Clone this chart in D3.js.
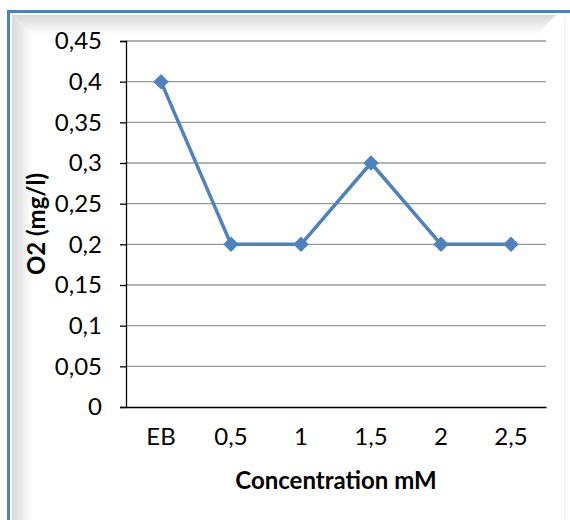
<!DOCTYPE html>
<html>
<head>
<meta charset="utf-8">
<script src="https://cdn.jsdelivr.net/npm/d3@7"></script>
<style>
body{margin:0;background:#fff;}
svg{display:block;font-family:Lato,"Open Sans",sans-serif;}
</style>
</head>
<body>
<script>
// chart data
var categories=["EB","0,5","1","1,5","2","2,5"];
var o2=[0.4,0.2,0.2,0.3,0.2,0.2];
var yTicks=[0,0.05,0.1,0.15,0.2,0.25,0.3,0.35,0.4,0.45];

var width=570,height=520;
var plotLeft=126,plotRight=546,plotTop=41,plotBottom=407;
var fontSize=24;

var svg=d3.select("body").append("svg")
	.attr("width",width)
	.attr("height",height);

var defs=svg.append("defs");
var gTop=defs.append("linearGradient").attr("id","gtop").attr("x1",0).attr("y1",0).attr("x2",0).attr("y2",1);
gTop.append("stop").attr("offset",0).attr("stop-color","#d8d8d8");
gTop.append("stop").attr("offset",1).attr("stop-color","#fff");
var gLeft=defs.append("linearGradient").attr("id","gleft").attr("x1",0).attr("y1",0).attr("x2",1).attr("y2",0);
gLeft.append("stop").attr("offset",0).attr("stop-color","#d8d8d8");
gLeft.append("stop").attr("offset",1).attr("stop-color","#fff");

//frame with bevel shading
svg.append("path")
	.attr("d","M12,15 L556,15 L536,35 L32,35 Z")
	.attr("fill","url(#gtop)");
svg.append("path")
	.attr("d","M12,15 L32,35 L32,520 L12,520 Z")
	.attr("fill","url(#gleft)");
svg.append("line").attr("x1",565).attr("x2",565).attr("y1",14).attr("y2",520)
	.attr("stroke","#eee").attr("stroke-width",1);
svg.append("path")
	.attr("d","M8.5,520 L8.5,11.5 L570,11.5")
	.attr("fill","none").attr("stroke","#4f81bd").attr("stroke-width",3);

var x=d3.scaleBand().domain(categories).range([plotLeft,plotRight]);
var y=d3.scaleLinear().domain([0,0.45]).range([plotBottom,plotTop]);
var fmt=function(d){return String(+d.toFixed(2)).replace(".",",");};

//gridlines
svg.append("g").selectAll("line").data(yTicks.filter(function(d){return d>0;})).enter()
	.append("line")
	.attr("x1",plotLeft).attr("x2",plotRight)
	.attr("y1",function(d){return y(d);}).attr("y2",function(d){return y(d);})
	.attr("stroke","#999").attr("stroke-width",1.3);

//y axis
var yAxis=svg.append("g")
	.attr("transform","translate("+plotLeft+",0)")
	.call(d3.axisLeft(y).tickValues(yTicks).tickFormat(fmt).tickSize(6).tickPadding(18));
yAxis.select(".domain").attr("stroke","#000").attr("stroke-width",1.3);
yAxis.selectAll(".tick line").attr("stroke","#000").attr("stroke-width",1.3);
yAxis.selectAll("text").attr("font-size",fontSize).attr("fill","#000").attr("font-family","Lato, sans-serif");

//x axis
var xAxis=svg.append("g")
	.attr("transform","translate(0,"+plotBottom+")")
	.call(d3.axisBottom(x).tickSize(0).tickPadding(21));
xAxis.select(".domain").attr("stroke","#000").attr("stroke-width",1.3);
xAxis.selectAll("text").attr("font-size",fontSize).attr("fill","#000").attr("font-family","Lato, sans-serif");

//line
var line=d3.line()
	.x(function(d,i){return x(categories[i])+x.bandwidth()/2;})
	.y(function(d){return y(d);});
svg.append("path").datum(o2)
	.attr("d",line)
	.attr("fill","none")
	.attr("stroke","#4f81bd")
	.attr("stroke-width",3.5)
	.attr("stroke-linejoin","round");

svg.append("g").selectAll("path").data(o2).enter()
	.append("path")
	.attr("d",d3.symbol().type(d3.symbolSquare).size(120))
	.attr("transform",function(d,i){return "translate("+(x(categories[i])+x.bandwidth()/2)+","+y(d)+") rotate(45)";})
	.attr("fill","#4f81bd");

//axis titles
svg.append("text")
	.attr("x",(plotLeft+plotRight)/2).attr("y",489)
	.attr("text-anchor","middle")
	.attr("font-size",fontSize).attr("font-weight","bold")
	.text("Concentration mM");
svg.append("text")
	.attr("transform","translate(45,"+((plotTop+plotBottom)/2)+") rotate(-90)")
	.attr("text-anchor","middle")
	.attr("font-size",fontSize).attr("font-weight","bold")
	.text("O2 (mg/l)");
</script>
</body>
</html>
